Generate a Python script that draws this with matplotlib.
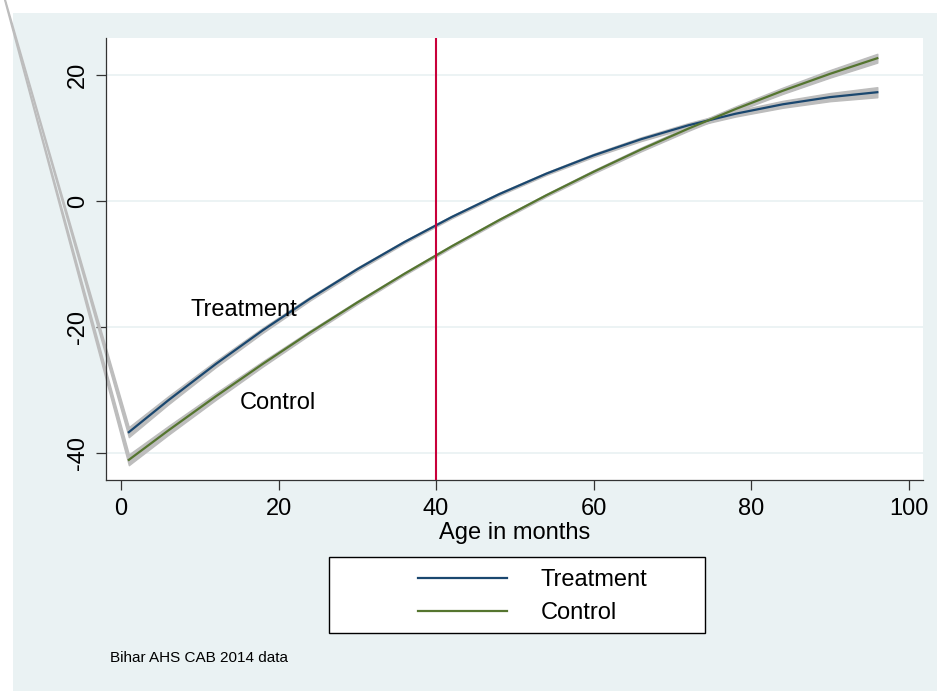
import matplotlib
matplotlib.use("Agg")
import matplotlib.pyplot as plt
from matplotlib.patches import Rectangle

plt.rcParams['font.family'] = ['Liberation Sans', 'DejaVu Sans']
plt.rcParams['axes.unicode_minus'] = False

# ---- data ----
age = [1, 6, 12, 18, 24, 30, 36, 42, 48, 54, 60, 66, 72, 78, 84, 90, 96]
treatment = [-36.70, -31.65, -25.91, -20.52, -15.49, -10.81, -6.49, -2.52, 1.10,
             4.36, 7.27, 9.82, 12.03, 13.87, 15.37, 16.51, 17.29]
control = [-41.10, -36.44, -31.05, -25.86, -20.87, -16.10, -11.53, -7.17, -3.02,
           0.93, 4.66, 8.19, 11.50, 14.61, 17.52, 20.21, 22.69]
treat_halfwidth = [0.8, 0.65, 0.5, 0.4, 0.3, 0.25, 0.2, 0.2, 0.2, 0.2, 0.25,
                   0.3, 0.35, 0.45, 0.55, 0.65, 0.8]
ctrl_halfwidth = [0.85, 0.7, 0.55, 0.42, 0.32, 0.25, 0.2, 0.2, 0.2, 0.2, 0.25,
                  0.3, 0.35, 0.42, 0.5, 0.6, 0.7]
# stray first point of the CI area (drawn outside the plot region)
ci_far_x = -16.0
ci_far_y = 37.5

cutoff_age = 40
xticks = [0, 20, 40, 60, 80, 100]
yticks = [-40, -20, 0, 20]
legend_labels = ["Treatment", "Control"]
note = "Bihar AHS CAB 2014 data"

# ---- style ----
W, H = 949, 691
BG = '#EAF2F3'
NAVY = '#1A476F'
GREEN = '#55752F'
GREY = '#BDBDBD'
RED = '#C8003A'
FS = 17

fig = plt.figure(figsize=(W / 100, H / 100), dpi=100)
fig.patch.set_facecolor('white')
fig.patches.append(Rectangle((13 / W, 0), (937 - 13) / W, (H - 13) / H,
                             transform=fig.transFigure, facecolor=BG,
                             edgecolor='none', zorder=-10))
# legend frame
fig.patches.append(Rectangle((329 / W, (H - 633) / H), (705 - 329) / W,
                             (633 - 557) / H, transform=fig.transFigure,
                             facecolor='white', edgecolor='black', lw=1.0,
                             zorder=-5))

ax = fig.add_axes([106 / W, (H - 480) / H, (923 - 106) / W, (480 - 38) / H])
ax.set_facecolor('white')
ax.set_xlim(-1.9, 101.8)
ax.set_ylim(-44.3, 25.9)

# CI bands
for vals, hw in ((treatment, treat_halfwidth), (control, ctrl_halfwidth)):
    xs = [ci_far_x] + age
    lo = [ci_far_y] + [v - h for v, h in zip(vals, hw)]
    hi = [ci_far_y] + [v + h for v, h in zip(vals, hw)]
    pc = ax.fill_between(xs, lo, hi, facecolor=GREY, edgecolor=GREY,
                         linewidth=1.0, zorder=2)
    pc.set_clip_on(False)

ax.plot(age, treatment, color=NAVY, lw=1.6, zorder=3, label=legend_labels[0])
ax.plot(age, control, color=GREEN, lw=1.6, zorder=3, label=legend_labels[1])

ax.axvline(cutoff_age, color=RED, lw=1.5, zorder=4)

ax.text(8.8, -17.3, "Treatment", fontsize=FS, ha='left', va='center', zorder=5)
ax.text(15.1, -32.1, "Control", fontsize=FS, ha='left', va='center', zorder=5)

# axes styling
for s in ('top', 'right'):
    ax.spines[s].set_visible(False)
for s in ('left', 'bottom'):
    ax.spines[s].set_color('#333333')
    ax.spines[s].set_linewidth(0.9)
ax.set_xticks(xticks)
ax.set_yticks(yticks)
ax.tick_params(axis='both', length=7, width=0.9, color='#333333',
               labelsize=FS, direction='out')
ax.tick_params(axis='x', pad=6)
ax.tick_params(axis='y', pad=5)
for lab in ax.get_yticklabels():
    lab.set_rotation(90)
    lab.set_va('center')
ax.yaxis.grid(True, color=BG, lw=1.3, zorder=0)
ax.set_axisbelow(True)

ax.set_xlabel("Age in months", fontsize=FS)
ax.xaxis.set_label_coords(0.5, (480 - 533) / (480 - 38))
ax.xaxis.label.set_va('center')

leg = ax.legend(loc='upper left', bbox_to_anchor=(418 / W, (H - 569) / H),
                bbox_transform=fig.transFigure, frameon=False, fontsize=FS,
                handlelength=3.75, handletextpad=1.45, borderpad=0,
                borderaxespad=0, labelspacing=0.47)
leg.set_zorder(6)

fig.text(110 / W, (H - 658) / H, note, fontsize=11, ha='left', va='center')

fig.savefig('out.png', dpi=100)
